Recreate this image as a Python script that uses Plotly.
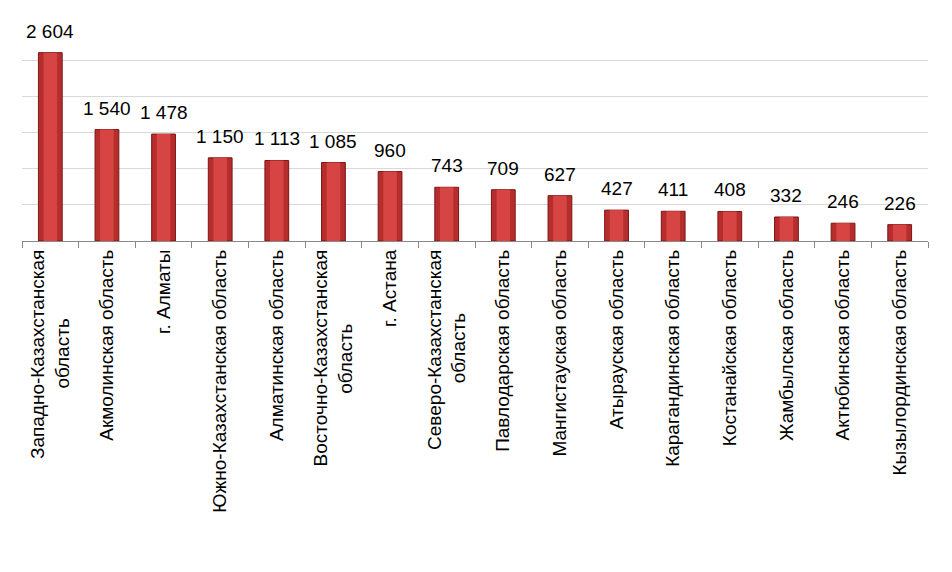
import plotly.graph_objects as go

categories = [
    "Западно-Казахстанская<br>область" + "\u00a0" * 13,
    "Акмолинская область",
    "г. Алматы",
    "Южно-Казахстанская область",
    "Алматинская область",
    "Восточно-Казахстанская<br>область" + "\u00a0" * 14,
    "г. Астана",
    "Северо-Казахстанская<br>область" + "\u00a0" * 12,
    "Павлодарская область",
    "Мангистауская область",
    "Атырауская область",
    "Карагандинская область",
    "Костанайская область",
    "Жамбылская область",
    "Актюбинская область",
    "Кызылординская область",
]
values = [2604, 1540, 1478, 1150, 1113, 1085, 960, 743, 709, 627, 427, 411, 408, 332, 246, 226]

fig = go.Figure()
fig.add_trace(go.Bar(
    x=categories, y=values, width=0.42,
    marker=dict(color="#b52d2d", line=dict(color="#7e1414", width=1)),
    hoverinfo="skip",
))
fig.add_trace(go.Bar(
    x=categories, y=values, width=0.24,
    marker=dict(color="#d74444", line=dict(width=0)),
    hoverinfo="skip",
))

for c, v in zip(categories, values):
    fig.add_annotation(
        x=c, y=v, text=f"{v:,}".replace(",", " "), showarrow=False,
        yanchor="bottom", yshift=9,
        font=dict(family="Liberation Sans, Arial", size=19, color="#000000"),
    )

fig.update_layout(
    barmode="overlay",
    showlegend=False,
    width=952, height=572,
    margin=dict(l=14, r=32, t=16, b=339),
    paper_bgcolor="white", plot_bgcolor="white",
    font=dict(family="Liberation Sans, Arial", size=19, color="#000000"),
)
fig.update_xaxes(
    tickangle=-90, tickson="boundaries", ticks="outside", ticklen=6,
    tickcolor="#888888", showline=True, linecolor="#888888", linewidth=1,
    tickfont=dict(family="Liberation Sans, Arial", size=19, color="#000000"),
    showgrid=False, automargin=False,
)
fig.update_yaxes(
    range=[0, 3000], dtick=500, showticklabels=False, showgrid=True,
    gridcolor="#d9d9d9", zeroline=False, showline=False, automargin=False,
)
fig.write_html("out.html")
